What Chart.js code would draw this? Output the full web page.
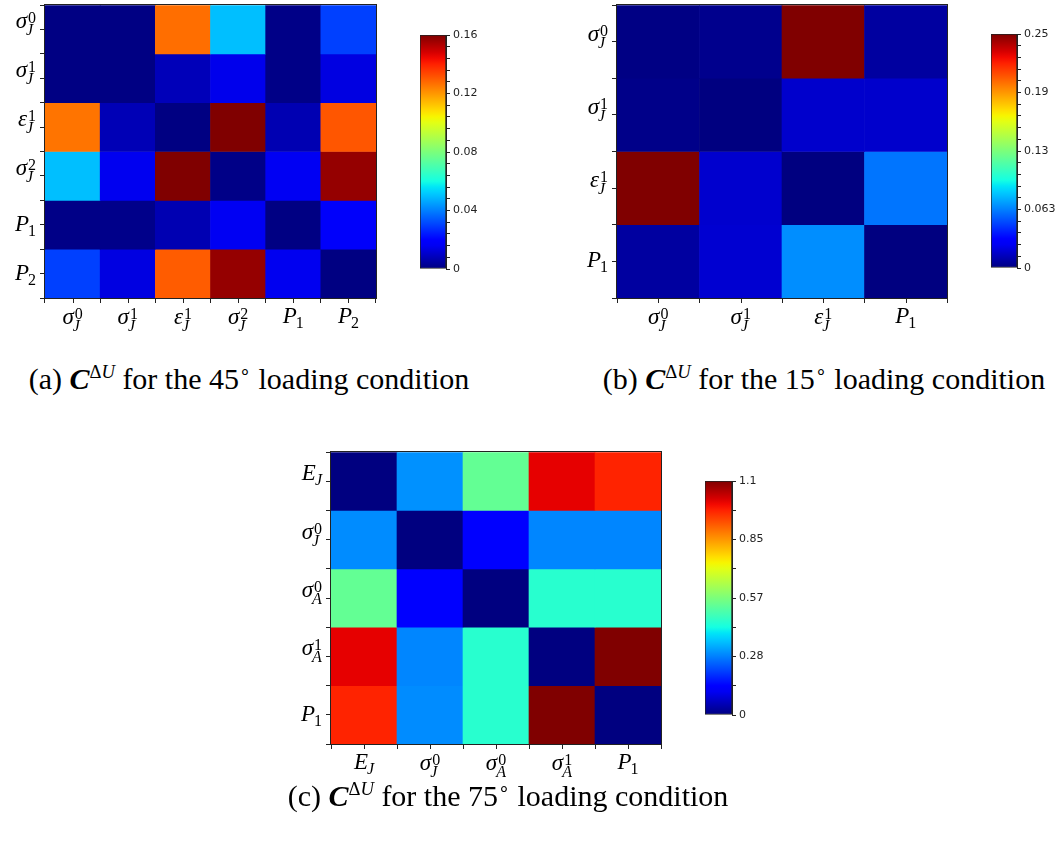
<!DOCTYPE html>
<html>
<head>
<meta charset="utf-8">
<script src="https://cdn.jsdelivr.net/npm/chart.js@4.4.1/dist/chart.umd.min.js"></script>
<style>
  body { margin: 0; background: #fff; width: 1058px; height: 847px; position: relative; overflow: hidden; }
  canvas { position: absolute; }
  .cap { position: absolute; font-family: "Liberation Serif", serif; font-size: 30px; line-height: 34px;
         white-space: nowrap; transform: translateX(-50%); color: #000; }
  .cap sup { font-size: 0.62em; line-height: 0; }
</style>
</head>
<body>
<canvas id="heatA" width="400" height="345" style="left:0;top:0"></canvas>
<canvas id="barA" width="80" height="260" style="left:410px;top:25px"></canvas>
<canvas id="heatB" width="410" height="345" style="left:560px;top:0"></canvas>
<canvas id="barB" width="77" height="260" style="left:981px;top:24px"></canvas>
<canvas id="heatC" width="420" height="350" style="left:260px;top:440px"></canvas>
<canvas id="barC" width="90" height="260" style="left:695px;top:471px"></canvas>

<div class="cap" style="left:249px;top:362px">(a) <b><i>C</i></b><sup>Δ<i>U</i></sup> for the 45<sup>∘</sup> loading condition</div>
<div class="cap" style="left:824px;top:362px">(b) <b><i>C</i></b><sup>Δ<i>U</i></sup> for the 15<sup>∘</sup> loading condition</div>
<div class="cap" style="left:508px;top:779px">(c) <b><i>C</i></b><sup>Δ<i>U</i></sup> for the 75<sup>∘</sup> loading condition</div>

<script>
// (a) 45° loading
const labelsA = ["σ_J^0", "σ_J^1", "ε_J^1", "σ_J^2", "P_1", "P_2"];
const valuesA = [
  [0.0005, 0.0005, 0.127, 0.050, 0.001, 0.030],
  [0.0005, 0.0005, 0.008, 0.015, 0.001, 0.0135],
  [0.126, 0.0075, 0.0003, 0.160, 0.007, 0.131],
  [0.050, 0.0155, 0.160, 0.001, 0.016, 0.157],
  [0.001, 0.0015, 0.007, 0.016, 0.0005, 0.017],
  [0.030, 0.0135, 0.130, 0.157, 0.0155, 0.0003],
];
const vmaxA = 0.16;
const cbTicksA = [0, 0.04, 0.08, 0.12, 0.16];
const cbLabelsA = ["0", "0.04", "0.08", "0.12", "0.16"];

// (b) 15° loading
const labelsB = ["σ_J^0", "σ_J^1", "ε_J^1", "P_1"];
const valuesB = [
  [0.001, 0.003, 0.250, 0.007],
  [0.002, 0.000, 0.0165, 0.0165],
  [0.250, 0.017, 0.000, 0.060],
  [0.007, 0.0175, 0.066, 0.000],
];
const vmaxB = 0.25;
const cbTicksB = [0, 0.0625, 0.125, 0.1875, 0.25];
const cbLabelsB = ["0", "0.063", "0.13", "0.19", "0.25"];

// (c) 75° loading
const labelsC = ["E_J", "σ_J^0", "σ_A^0", "σ_A^1", "P_1"];
const valuesC = [
  [0.000, 0.302, 0.531, 1.030, 0.987],
  [0.296, 0.000, 0.135, 0.290, 0.290],
  [0.531, 0.135, 0.000, 0.450, 0.450],
  [1.030, 0.290, 0.450, 0.000, 1.130],
  [0.987, 0.296, 0.450, 1.130, 0.000],
];
const vmaxC = 1.13;
const cbTicksC = [0, 0.2825, 0.565, 0.8475, 1.13];
const cbLabelsC = ["0", "0.28", "0.57", "0.85", "1.1"];

// matplotlib "jet"
function interp(t, xs, ys) {
  for (let i = 1; i < xs.length; i++) {
    if (t <= xs[i]) return ys[i - 1] + (ys[i] - ys[i - 1]) * (t - xs[i - 1]) / (xs[i] - xs[i - 1]);
  }
  return ys[ys.length - 1];
}
function jet(t) {
  t = Math.max(0, Math.min(1, t));
  const r = interp(t, [0, 0.35, 0.66, 0.89, 1], [0, 0, 1, 1, 0.5]);
  const g = interp(t, [0, 0.125, 0.375, 0.64, 0.91, 1], [0, 0, 1, 1, 0, 0]);
  const b = interp(t, [0, 0.11, 0.34, 0.65, 1], [0.5, 1, 1, 0, 0]);
  return `rgb(${Math.round(r * 255)},${Math.round(g * 255)},${Math.round(b * 255)})`;
}

// draws labels like "σ_J^0" with sub/superscripts
function drawMath(ctx, label, x, y, mode) {
  const m = label.match(/^([^_^]+)(?:_([^^]+))?(?:\^(.+))?$/);
  const base = m[1], sub = m[2], sup = m[3];
  const baseFont = 'italic 23px "Liberation Serif"';
  const smallFont = (s) => (/\d/.test(s) ? '16px "Liberation Serif"' : 'italic 16px "Liberation Serif"');
  ctx.font = baseFont;
  const bm = ctx.measureText(base);
  const baseW = bm.width;
  let top = -bm.actualBoundingBoxAscent, width = baseW;
  const subDy = sup ? 7 : 5, supDy = -5;
  let subM, supM;
  if (sub) {
    ctx.font = smallFont(sub);
    subM = ctx.measureText(sub);
    width = Math.max(width, baseW - 1 + subM.width);
  }
  if (sup) {
    ctx.font = smallFont(sup);
    supM = ctx.measureText(sup);
    width = Math.max(width, baseW + 1 + supM.width);
    top = Math.min(top, supDy - supM.actualBoundingBoxAscent);
  }
  let x0, by;
  if (mode === "top") {
    x0 = x - width / 2;
    by = y - top;
  } else {
    x0 = x - width;
    by = y + (!sup && sub && /\d/.test(sub) ? 6 : -1);
  }
  ctx.fillStyle = "#000";
  ctx.textAlign = "left";
  ctx.textBaseline = "alphabetic";
  ctx.font = baseFont;
  ctx.fillText(base, x0, by);
  if (sub) { ctx.font = smallFont(sub); ctx.fillText(sub, x0 + baseW - 1, by + subDy); }
  if (sup) { ctx.font = smallFont(sup); ctx.fillText(sup, x0 + baseW + 1, by + supDy); }
}

const mathAxes = {
  id: "mathAxes",
  afterDraw(chart, args, opts) {
    const ctx = chart.ctx, ca = chart.chartArea;
    const xs = chart.scales.x, ys = chart.scales.y;
    ctx.save();
    ctx.strokeStyle = "#222";
    ctx.lineWidth = 1;
    ctx.strokeRect(Math.round(ca.left) - 0.5, Math.round(ca.top) - 0.5,
      Math.round(ca.right - ca.left) + 1, Math.round(ca.bottom - ca.top) + 1);
    opts.labels.forEach((lab, i) => {
      const px = Math.round(xs.getPixelForValue(i)) + 0.5;
      ctx.beginPath();
      ctx.moveTo(px, ca.bottom);
      ctx.lineTo(px, ca.bottom + 5);
      ctx.stroke();
      drawMath(ctx, lab, xs.getPixelForValue(i), ca.bottom + 10, "top");
      drawMath(ctx, lab, ca.left - 9, ys.getPixelForValue(i + 0.5), "right");
    });
    ctx.restore();
  },
};

function heatmap(id, labels, values, vmax, box) {
  const halfSteps = [];
  for (let v = 0; v <= labels.length; v += 0.5) halfSteps.push({ value: v });
  const datasets = labels.map((_, r) => ({
    data: values[r].map(() => 1),
    backgroundColor: values[r].map((v) => jet(v / vmax)),
    borderWidth: 0,
    barPercentage: 1,
    categoryPercentage: 1,
  }));
  new Chart(document.getElementById(id), {
    type: "bar",
    data: { labels, datasets },
    options: {
      responsive: false,
      animation: false,
      layout: { padding: { left: 0, top: box.top, right: box.right, bottom: 0 } },
      plugins: { legend: { display: false }, tooltip: { enabled: false }, mathAxes: { labels } },
      scales: {
        x: {
          stacked: true,
          afterFit: (s) => { s.height = box.xH; },
          ticks: { display: false },
          grid: { offset: true, drawOnChartArea: false, drawTicks: true, tickLength: 5, color: "#222" },
          border: { display: false },
        },
        y: {
          stacked: true,
          reverse: true,
          min: 0,
          max: labels.length,
          afterBuildTicks: (s) => { s.ticks = halfSteps; },
          afterFit: (s) => { s.width = box.yW; },
          ticks: { display: false },
          grid: { drawOnChartArea: false, drawTicks: true, tickLength: 5, color: "#222" },
          border: { display: false },
        },
      },
    },
    plugins: [mathAxes],
  });
}

function colorbar(id, vmax, majors, majorLabels, nMinor, yW) {
  const allTicks = [];
  majors.forEach((v, i) => {
    allTicks.push({ value: v });
    if (i < majors.length - 1) {
      for (let k = 1; k <= nMinor; k++) allTicks.push({ value: v + (majors[i + 1] - v) * k / (nMinor + 1) });
    }
  });
  new Chart(document.getElementById(id), {
    type: "bar",
    data: {
      labels: [""],
      datasets: [{
        data: [[0, vmax]],
        backgroundColor: (c) => {
          const ca = c.chart.chartArea;
          if (!ca) return "#000080";
          const g = c.chart.ctx.createLinearGradient(0, ca.bottom, 0, ca.top);
          for (let i = 0; i <= 40; i++) g.addColorStop(i / 40, jet(i / 40));
          return g;
        },
        borderColor: "#222",
        borderWidth: 1,
        borderSkipped: false,
        barPercentage: 1,
        categoryPercentage: 1,
      }],
    },
    options: {
      responsive: false,
      animation: false,
      layout: { padding: { left: 10, top: 10, bottom: 16, right: 0 } },
      plugins: { legend: { display: false }, tooltip: { enabled: false } },
      scales: {
        x: { display: false },
        y: {
          position: "right",
          min: 0,
          max: vmax,
          afterBuildTicks: (s) => { s.ticks = allTicks.map((t) => ({ value: t.value })); },
          afterFit: (s) => { s.width = yW; },
          ticks: {
            autoSkip: false,
            padding: 3,
            color: "#222",
            font: { family: "DejaVu Sans", size: 11 },
            callback: (v) => {
              const k = majors.findIndex((m) => Math.abs(m - v) < 1e-9);
              return k >= 0 ? majorLabels[k] : "";
            },
          },
          grid: { drawOnChartArea: false, drawTicks: true, tickLength: 4, color: "#222" },
          border: { display: true, color: "#222" },
        },
      },
    },
  });
}

heatmap("heatA", labelsA, valuesA, vmaxA, { yW: 45, xH: 47, top: 5, right: 24 });
heatmap("heatB", labelsB, valuesB, vmaxB, { yW: 57, xH: 47, top: 5, right: 23 });
heatmap("heatC", labelsC, valuesC, vmaxC, { yW: 71, xH: 46, top: 12, right: 19 });

colorbar("barA", vmaxA, cbTicksA, cbLabelsA, 4, 44);
colorbar("barB", vmaxB, cbTicksB, cbLabelsB, 4, 41);
colorbar("barC", vmaxC, cbTicksC, cbLabelsC, 1, 53);
</script>
</body>
</html>
